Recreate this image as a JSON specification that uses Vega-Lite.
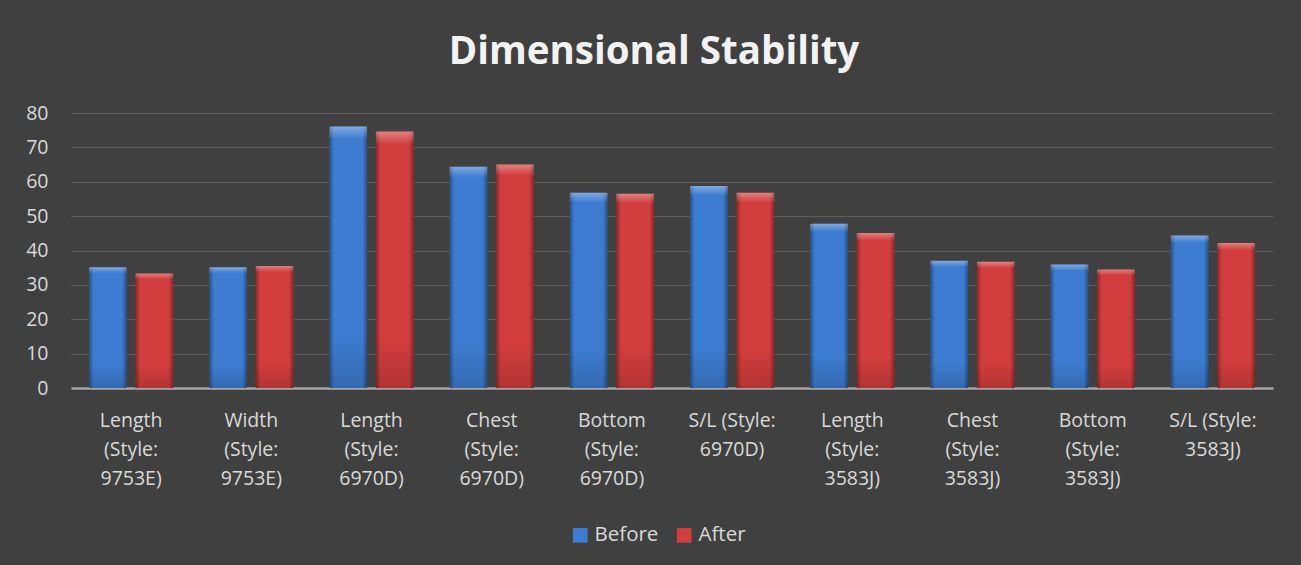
{
  "$schema": "https://vega.github.io/schema/vega-lite/v6.json",
  "width": 1202,
  "height": 275,
  "autosize": {"type": "none"},
  "padding": {"left": 71, "top": 113, "right": 28, "bottom": 177},
  "background": "#404040",
  "title": {
    "text": "Dimensional Stability",
    "font": "Open Sans",
    "fontSize": 38.5,
    "fontWeight": "bold",
    "color": "#f2f2f2",
    "anchor": "middle",
    "dx": -18,
    "baseline": "alphabetic",
    "offset": 1
  },
  "config": {
    "view": {"stroke": null}
  },
  "data": {
    "values": [
      {"category": "Length (Style: 9753E)", "series": "Before", "value": 35.1},
      {"category": "Length (Style: 9753E)", "series": "After", "value": 33.3},
      {"category": "Width (Style: 9753E)", "series": "Before", "value": 35.1},
      {"category": "Width (Style: 9753E)", "series": "After", "value": 35.5},
      {"category": "Length (Style: 6970D)", "series": "Before", "value": 76.1},
      {"category": "Length (Style: 6970D)", "series": "After", "value": 74.6},
      {"category": "Chest (Style: 6970D)", "series": "Before", "value": 64.4},
      {"category": "Chest (Style: 6970D)", "series": "After", "value": 65.0},
      {"category": "Bottom (Style: 6970D)", "series": "Before", "value": 56.8},
      {"category": "Bottom (Style: 6970D)", "series": "After", "value": 56.5},
      {"category": "S/L (Style: 6970D)", "series": "Before", "value": 58.8},
      {"category": "S/L (Style: 6970D)", "series": "After", "value": 56.8},
      {"category": "Length (Style: 3583J)", "series": "Before", "value": 47.8},
      {"category": "Length (Style: 3583J)", "series": "After", "value": 45.1},
      {"category": "Chest (Style: 3583J)", "series": "Before", "value": 37.0},
      {"category": "Chest (Style: 3583J)", "series": "After", "value": 36.7},
      {"category": "Bottom (Style: 3583J)", "series": "Before", "value": 35.9},
      {"category": "Bottom (Style: 3583J)", "series": "After", "value": 34.5},
      {"category": "S/L (Style: 3583J)", "series": "Before", "value": 44.4},
      {"category": "S/L (Style: 3583J)", "series": "After", "value": 42.2}
    ]
  },
  "encoding": {
    "x": {
      "field": "category",
      "type": "nominal",
      "sort": null,
      "scale": {"paddingInner": 0.3, "paddingOuter": 0.15},
      "axis": {
        "title": null,
        "labelAngle": 0,
        "labelExpr": "split(replace(datum.value, 'S/L ', 'S/L\u00a0'), ' ')",
        "labelFont": "Open Sans",
        "labelFontSize": 19.5,
        "labelColor": "#d9d9d9",
        "labelLineHeight": 29,
        "labelBaseline": "top",
        "labelPadding": 23,
        "labelOverlap": false,
        "labelLimit": 0,
        "ticks": false,
        "grid": false,
        "domainColor": "#a6a6a6",
        "domainWidth": 2.5
      }
    },
    "xOffset": {
      "field": "series",
      "type": "nominal",
      "sort": ["Before", "After"],
      "scale": {"paddingInner": 0.19, "paddingOuter": 0}
    },
    "y": {
      "field": "value",
      "type": "quantitative",
      "scale": {"domain": [0, 80], "nice": false},
      "axis": {
        "title": null,
        "values": [0, 10, 20, 30, 40, 50, 60, 70, 80],
        "grid": true,
        "gridColor": "#5c5c5c",
        "gridWidth": 1,
        "domain": false,
        "ticks": false,
        "labelFont": "Open Sans",
        "labelFontSize": 19.5,
        "labelColor": "#d9d9d9",
        "labelPadding": 23
      }
    }
  },
  "layer": [
    {
      "mark": {"type": "bar"},
      "encoding": {
        "color": {
          "field": "series",
          "type": "nominal",
          "sort": ["Before", "After"],
          "scale": {"domain": ["Before", "After"], "range": ["#3d7cd0", "#d23d3d"]},
          "legend": {
            "orient": "none",
            "legendX": 499,
            "legendY": 412,
            "direction": "horizontal",
            "title": null,
            "symbolType": "square",
            "symbolSize": 215,
            "symbolStrokeWidth": 0,
            "symbolOpacity": 1,
            "labelFont": "Open Sans",
            "labelFontSize": 20.5,
            "labelColor": "#d9d9d9",
            "labelOffset": 4,
            "columnPadding": 15
          }
        }
      }
    },
    {
      "mark": {
        "type": "bar",
        "fill": {
          "gradient": "linear",
          "x1": 0, "y1": 0, "x2": 1, "y2": 0,
          "stops": [
            {"offset": 0, "color": "rgba(0,0,0,0.35)"},
            {"offset": 0.12, "color": "rgba(0,0,0,0)"},
            {"offset": 0.88, "color": "rgba(0,0,0,0)"},
            {"offset": 1, "color": "rgba(0,0,0,0.35)"}
          ]
        }
      }
    },
    {
      "mark": {
        "type": "bar",
        "fill": {
          "gradient": "linear",
          "x1": 0, "y1": 0, "x2": 0, "y2": 1,
          "stops": [
            {"offset": 0, "color": "rgba(255,255,255,0.35)"},
            {"offset": 0.05, "color": "rgba(255,255,255,0)"},
            {"offset": 0.8, "color": "rgba(0,0,0,0)"},
            {"offset": 1, "color": "rgba(0,0,0,0.15)"}
          ]
        }
      }
    }
  ]
}
